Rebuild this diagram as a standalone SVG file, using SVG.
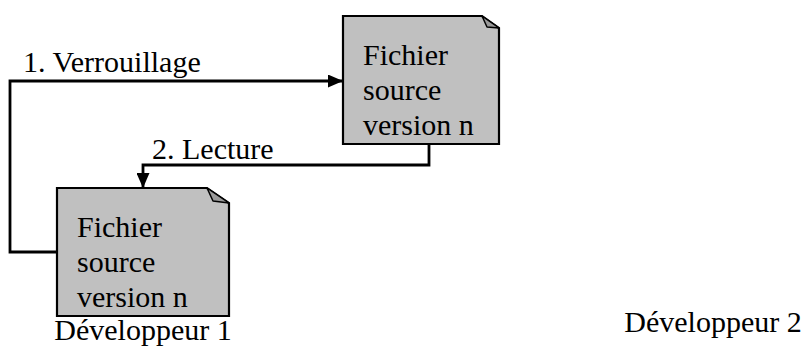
<svg xmlns="http://www.w3.org/2000/svg" width="811" height="350" viewBox="0 0 811 350">
<style>
text{font-family:"Liberation Serif","Times New Roman",serif;font-size:30px;fill:#000}
.page{fill:#c0c0c0;stroke:#000;stroke-width:2.2}
.fold{fill:#999;stroke:#000;stroke-width:1.5;stroke-linejoin:round}
.conn{fill:none;stroke:#000;stroke-width:2.8}
</style>
<defs>
<marker id="arr" markerWidth="15" markerHeight="13" refX="15" refY="6.5" orient="auto" markerUnits="userSpaceOnUse">
<path d="M0,0 L15,6.5 L0,13 Z" fill="#000"/>
</marker>
</defs>
<rect width="811" height="350" fill="#fff"/>
<g id="connectors">
<path class="conn" d="M57,252 H10 V81 H343" marker-end="url(#arr)"/>
<path class="conn" d="M429,144 V165 H143 V188" marker-end="url(#arr)"/>
<text x="23" y="72">1. Verrouillage</text>
<text x="152" y="159">2. Lecture</text>
</g>
<g id="file2">
<path class="page" d="M343,16 H482 L499,28 V144 H343 Z"/>
<path class="fold" d="M482,16 L499,28 L487,27 Z"/>
<text x="363" y="65">Fichier</text>
<text x="363" y="100">source</text>
<text x="363" y="135">version n</text>
</g>
<g id="file1">
<path class="page" d="M57,188 H207 L229,203 V316 H57 Z"/>
<path class="fold" d="M207,188 L229,203 L213,201 Z"/>
<text x="77" y="237">Fichier</text>
<text x="77" y="272">source</text>
<text x="77" y="307">version n</text>
</g>
<g id="dev1"><text x="143" y="340" text-anchor="middle">Développeur 1</text></g>
<g id="dev2"><text x="713" y="332" text-anchor="middle">Développeur 2</text></g>
</svg>
